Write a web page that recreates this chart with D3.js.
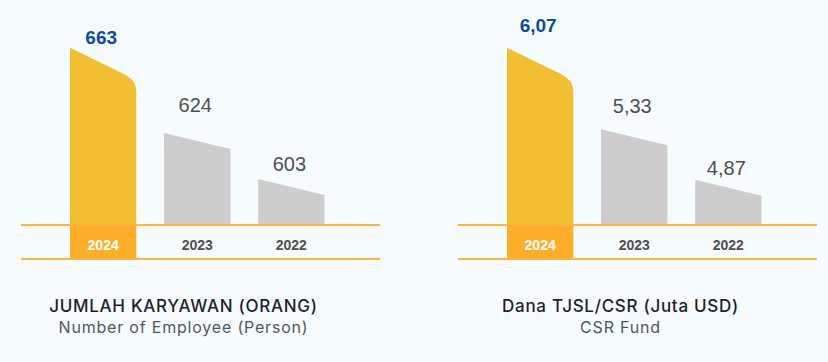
<!DOCTYPE html>
<html>
<head>
<meta charset="utf-8">
<script src="https://cdn.jsdelivr.net/npm/d3@7"></script>
<style>
    html, body { margin: 0; padding: 0; background: #F6FCFD; }
    svg { display: block; }
</style>
</head>
<body>
<svg id="chart"></svg>
<script>
/*################
Data
################*/
const years = ['2024', '2023', '2022'];
const employeeValues = [663, 624, 603];
const employeeLabels = ['663', '624', '603'];
const csrValues = [6.07, 5.33, 4.87];
const csrLabels = ['6,07', '5,33', '4,87'];
const titles = ['JUMLAH KARYAWAN (ORANG)', 'Dana TJSL/CSR (Juta USD)'];
const subtitles = ['Number of Employee (Person)', 'CSR Fund'];
// lower end of each value scale (bars are not zero based)
const scaleFloors = [582, 4.46];

/*################
Layout
################*/
const width = 828, height = 362;
const baseY = 225, boxBottom = 259;
const panelOffsets = [0, 437];
const labelGap = [[4, 21, 8], [16, 16, 5]];

const colors = {
    highlight: '#F1BF31',
    box: '#FDAE2B',
    line: '#FDB540',
    grey: '#CDCDCE',
    blue: '#0B4C9A',
    label: '#4F4F4F',
    title: '#1E1F2A',
    subtitle: '#505762'
};

const svg = d3.select('#chart')
    .attr('width', width)
    .attr('height', height);

const panels = [
    { values: employeeValues, labels: employeeLabels },
    { values: csrValues, labels: csrLabels }
];

let barPath = (x0, x1, yTop, first) => {
    const p = d3.path();
    if (first) {
        const slope = 0.49;
        const cornerY = yTop + slope * (x1 - x0);
        const back = 17;
        p.moveTo(x0, baseY);
        p.lineTo(x0, yTop);
        p.lineTo(x1 - back, cornerY - slope * back);
        p.bezierCurveTo(x1 - 4, cornerY - slope * 4, x1, cornerY + 2, x1, cornerY + 13);
        p.lineTo(x1, baseY);
    } else {
        p.moveTo(x0, baseY);
        p.lineTo(x0, yTop);
        p.lineTo(x1, yTop + 16);
        p.lineTo(x1, baseY);
    }
    p.closePath();
    return p.toString();
};

panels.forEach((panel, pi) => {
    const g = svg.append('g')
        .attr('transform', `translate(${panelOffsets[pi]},0)`);

    const x = d3.scaleBand()
        .domain(years)
        .range([70, 324.5])
        .paddingInner(0.295)
        .paddingOuter(0);

    const y = d3.scaleLinear()
        .domain([scaleFloors[pi], d3.max(panel.values)])
        .range([baseY, 47.7]);

    const rows = years.map((yr, i) => ({ year: yr, value: panel.values[i], label: panel.labels[i], i }));

    // bars
    g.selectAll('path.bar')
        .data(rows)
        .enter()
        .append('path')
        .attr('class', 'bar')
        .attr('d', d => barPath(x(d.year), x(d.year) + x.bandwidth(), y(d.value), d.i === 0))
        .attr('fill', d => d.i === 0 ? colors.highlight : colors.grey);

    // highlighted year box
    g.append('rect')
        .attr('x', x(years[0]))
        .attr('y', baseY)
        .attr('width', x.bandwidth())
        .attr('height', boxBottom - baseY)
        .attr('fill', colors.box);

    // rule lines
    g.selectAll('line.rule')
        .data([baseY, boxBottom])
        .enter()
        .append('line')
        .attr('class', 'rule')
        .attr('x1', 21)
        .attr('x2', 380)
        .attr('y1', d => d)
        .attr('y2', d => d)
        .attr('stroke', colors.line)
        .attr('stroke-width', 2);

    // value labels
    g.selectAll('text.value')
        .data(rows)
        .enter()
        .append('text')
        .attr('class', 'value')
        .attr('x', d => x(d.year) + x.bandwidth() / 2 - 2)
        .attr('y', d => y(d.value) - labelGap[pi][d.i])
        .attr('text-anchor', 'middle')
        .attr('font-family', '"Liberation Sans", Arial, sans-serif')
        .attr('font-size', d => d.i === 0 ? 19 : 20)
        .attr('font-weight', d => d.i === 0 ? 'bold' : 'normal')
        .attr('fill', d => d.i === 0 ? colors.blue : colors.label)
        .text(d => d.label);

    // year labels
    g.selectAll('text.year')
        .data(rows)
        .enter()
        .append('text')
        .attr('class', 'year')
        .attr('x', d => x(d.year) + x.bandwidth() / 2)
        .attr('y', 250)
        .attr('text-anchor', 'middle')
        .attr('font-family', '"Liberation Sans", Arial, sans-serif')
        .attr('font-size', 14)
        .attr('font-weight', 'bold')
        .attr('fill', d => d.i === 0 ? '#ffffff' : colors.label)
        .text(d => d.year);

    // titles
    g.append('text')
        .attr('x', 183.5)
        .attr('y', 312)
        .attr('text-anchor', 'middle')
        .attr('font-family', 'Inter, "Open Sans", sans-serif')
        .attr('font-size', 17)
        .attr('font-weight', 500)
        .attr('letter-spacing', 0.7)
        .attr('fill', colors.title)
        .text(titles[pi]);

    g.append('text')
        .attr('x', 183.5)
        .attr('y', 333)
        .attr('text-anchor', 'middle')
        .attr('font-family', 'Inter, "Open Sans", sans-serif')
        .attr('font-size', 16)
        .attr('letter-spacing', 0.8)
        .attr('fill', colors.subtitle)
        .text(subtitles[pi]);
});
</script>
</body>
</html>
